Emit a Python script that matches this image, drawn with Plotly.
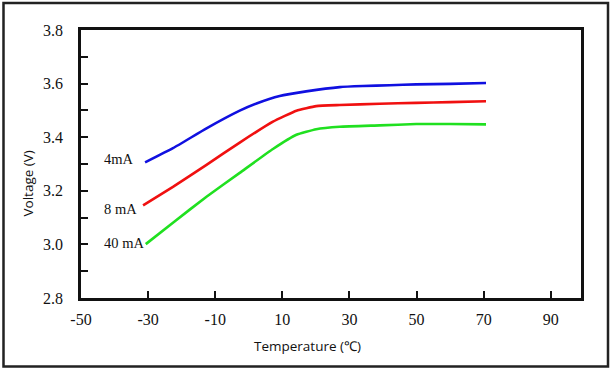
import plotly.graph_objects as go

# Data
temp_4mA = [-30.9, -22.6, -12.6, -2.7, 2.3, 9.2, 17.1, 27.1, 34.0, 42.0, 49.9, 60.0, 70.7]
volt_4mA = [3.306, 3.359, 3.433, 3.499, 3.526, 3.554, 3.571, 3.587, 3.591, 3.594, 3.597, 3.599, 3.602]

temp_8mA = [-31.5, -22.6, -12.6, -2.7, 7.2, 14.2, 20.1, 27.1, 39.0, 49.9, 60.0, 70.7]
volt_8mA = [3.146, 3.215, 3.297, 3.380, 3.458, 3.499, 3.516, 3.520, 3.525, 3.528, 3.531, 3.534]

temp_40mA = [-30.7, -22.6, -12.6, -2.7, 7.2, 14.2, 20.1, 27.1, 39.0, 49.9, 60.0, 70.7]
volt_40mA = [3.001, 3.081, 3.178, 3.267, 3.356, 3.409, 3.430, 3.439, 3.444, 3.449, 3.449, 3.448]

series_names = ["4mA", "8 mA", "40 mA"]
series_colors = ["#1010e0", "#f01010", "#20e020"]
label_y = [3.319, 3.133, 3.006]

x_tickvals = [-50, -30, -10, 10, 30, 50, 70, 90]
x_ticktext = ["-50", "-30", "-10", "10", "30", "50", "70", "90"]

W, H = 613, 369
ML, MR, MT, MB = 81, 32, 30, 71

serif = "Liberation Serif"
sans = "Open Sans"

fig = go.Figure()
for xs, ys, name, col in zip([temp_4mA, temp_8mA, temp_40mA],
                             [volt_4mA, volt_8mA, volt_40mA],
                             series_names, series_colors):
    fig.add_trace(go.Scatter(x=xs, y=ys, mode="lines", name=name, hoverinfo="skip",
                             line=dict(color=col, width=2.6, shape="spline", smoothing=0.4)))

for name, ly in zip(series_names, label_y):
    fig.add_annotation(x=-43.8, y=ly, xref="x", yref="y", text=name, showarrow=False,
                       xanchor="left", yanchor="middle",
                       font=dict(family=serif, size=14.5, color="#111"))

pw = W - ML - MR
ph = H - MT - MB
fig.add_annotation(xref="paper", yref="paper", x=(307 - ML) / pw, y=(H - MB - 345.5) / ph,
                   text="Temperature (℃)", showarrow=False, xanchor="center", yanchor="middle",
                   font=dict(family=sans, size=13.5, color="#111"))
fig.add_annotation(xref="paper", yref="paper", x=(27 - ML) / pw, y=(H - MB - 183.5) / ph,
                   text="Voltage (V)", showarrow=False, textangle=-90, xanchor="center", yanchor="middle",
                   font=dict(family=sans, size=13.5, color="#111"))

# outer frame around the whole picture
fig.add_shape(type="rect", xref="paper", yref="paper",
              x0=(3.5 - ML) / pw, x1=(608 - ML) / pw,
              y0=(H - MB - 366.5) / ph, y1=(H - MB - 3) / ph,
              line=dict(color="#222", width=2.5), layer="above")

fig.update_xaxes(range=[-50, 99], tickvals=x_tickvals, ticktext=x_ticktext, ticks="inside",
                 ticklen=7, tickwidth=2.2, tickcolor="#111", showline=True, linecolor="#111",
                 linewidth=2.6, mirror=True, showgrid=False, zeroline=False, ticklabelstandoff=5,
                 tickfont=dict(family=serif, size=16, color="#111"))
fig.update_yaxes(range=[2.8, 3.8], tick0=2.8, dtick=0.2, tickformat=".1f", ticks="inside", ticklen=7,
                 tickwidth=2.2, tickcolor="#111", showline=True, linecolor="#111", linewidth=2.6,
                 mirror=True, showgrid=False, zeroline=False, ticklabelstandoff=12,
                 minor=dict(dtick=0.1, tick0=2.8, ticks="inside", ticklen=7, tickwidth=2.2,
                            tickcolor="#111", showgrid=False),
                 tickfont=dict(family=serif, size=16, color="#111"))

fig.update_layout(width=W, height=H, margin=dict(l=ML, r=MR, t=MT, b=MB),
                  font=dict(family=serif, color="#111"), hovermode=False,
                  paper_bgcolor="white", plot_bgcolor="white", showlegend=False)

fig.write_html("out.html", config={"displayModeBar": False},
               post_script="document.body.style.margin='0';")
